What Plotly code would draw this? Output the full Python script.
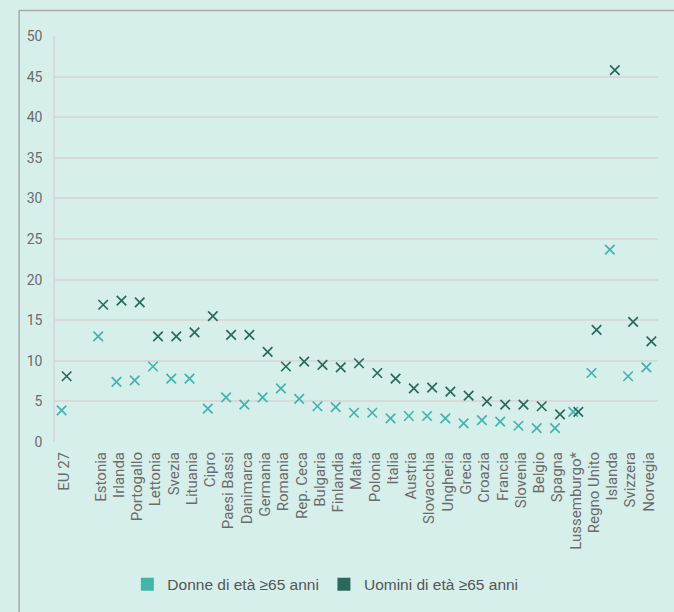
import plotly.graph_objects as go

# Categories (a blank slot separates the EU average from the countries)
categories = ["EU 27", " ", "Estonia", "Irlanda", "Portogallo", "Lettonia", "Svezia",
              "Lituania", "Cipro", "Paesi Bassi", "Danimarca", "Germania", "Romania",
              "Rep. Ceca", "Bulgaria", "Finlandia", "Malta", "Polonia", "Italia",
              "Austria", "Slovacchia", "Ungheria", "Grecia", "Croazia", "Francia",
              "Slovenia", "Belgio", "Spagna", "Lussemburgo*", "Regno Unito",
              "Islanda", "Svizzera", "Norvegia"]

donne = [3.9, None, 13.0, 7.4, 7.6, 9.3, 7.8, 7.8, 4.1, 5.5, 4.6, 5.5, 6.6, 5.3,
         4.4, 4.3, 3.6, 3.6, 2.9, 3.2, 3.2, 2.9, 2.3, 2.7, 2.5, 2.0, 1.7, 1.7,
         3.7, 8.5, 23.7, 8.1, 9.2]

uomini = [8.1, None, 16.9, 17.4, 17.2, 13.0, 13.0, 13.5, 15.5, 13.2, 13.2, 11.1,
          9.3, 9.9, 9.5, 9.2, 9.7, 8.5, 7.8, 6.6, 6.7, 6.2, 5.7, 5.0, 4.6, 4.6,
          4.4, 3.4, 3.7, 13.8, 45.8, 14.8, 12.4]

y_ticks = [0, 5, 10, 15, 20, 25, 30, 35, 40, 45, 50]

series_names = ["Donne di età ≥65 anni", "Uomini di età ≥65 anni"]
col_donne = "#44b4a9"
col_uomini = "#2a6a5e"
bg = "#d6efeb"
grid = "#d9d9d9"

fig = go.Figure()

for name, vals, col in [(series_names[0], donne, col_donne),
                        (series_names[1], uomini, col_uomini)]:
    fig.add_trace(go.Scatter(
        x=categories, y=vals, mode="markers", name=name, showlegend=False,
        offsetgroup=name,
        marker=dict(symbol="x-thin", size=9.5, color=col,
                    line=dict(width=1.7, color=col)),
        hoverinfo="x+y",
    ))

# legend entries drawn as filled squares
for name, col in [(series_names[0], col_donne), (series_names[1], col_uomini)]:
    fig.add_trace(go.Scatter(
        x=[None], y=[None], mode="markers", name=name,
        marker=dict(symbol="square", size=13, color=col),
    ))

# outer frame (left and top edges)
fig.add_shape(type="line", xref="paper", yref="paper",
              x0=-0.0595, x1=-0.0595, y0=-0.45, y1=1.063,
              line=dict(color="#a3aaa8", width=1.5))
fig.add_shape(type="line", xref="paper", yref="paper",
              x0=-0.0595, x1=1.03, y0=1.063, y1=1.063,
              line=dict(color="#a3aaa8", width=1.5))

fig.update_layout(
    width=674, height=612,
    margin=dict(l=55, r=16, t=36, b=169),
    paper_bgcolor=bg, plot_bgcolor=bg,
    scattermode="group", scattergap=0.45,
    font=dict(family="Roboto, sans-serif", color="#6b6b6b"),
    showlegend=True,
    legend=dict(orientation="h", x=0.12, xanchor="left", y=-0.348,
                yanchor="middle", bgcolor="rgba(0,0,0,0)",
                font=dict(family="Liberation Sans Narrow, sans-serif",
                          size=15.5, color="#555555"),
                itemwidth=30, traceorder="normal"),
    xaxis=dict(
        type="category", categoryorder="array", categoryarray=categories,
        tickmode="array", tickvals=categories, ticktext=categories,
        range=[-0.5, len(categories) - 0.5],
        tickangle=-90, tickfont=dict(size=15, color="#6b6b6b"),
        showgrid=False, showline=False, zeroline=False, ticks="",
        ticklabelstandoff=6, fixedrange=True,
    ),
    yaxis=dict(
        range=[0, 50], tickvals=y_ticks, tickfont=dict(size=14, color="#6b6b6b"),
        showgrid=True, gridcolor=grid, gridwidth=1.5,
        showline=True, linecolor=grid, linewidth=1.5,
        zeroline=False, ticks="", ticklabelstandoff=8,
    ),
)

fig.write_html("out.html")
